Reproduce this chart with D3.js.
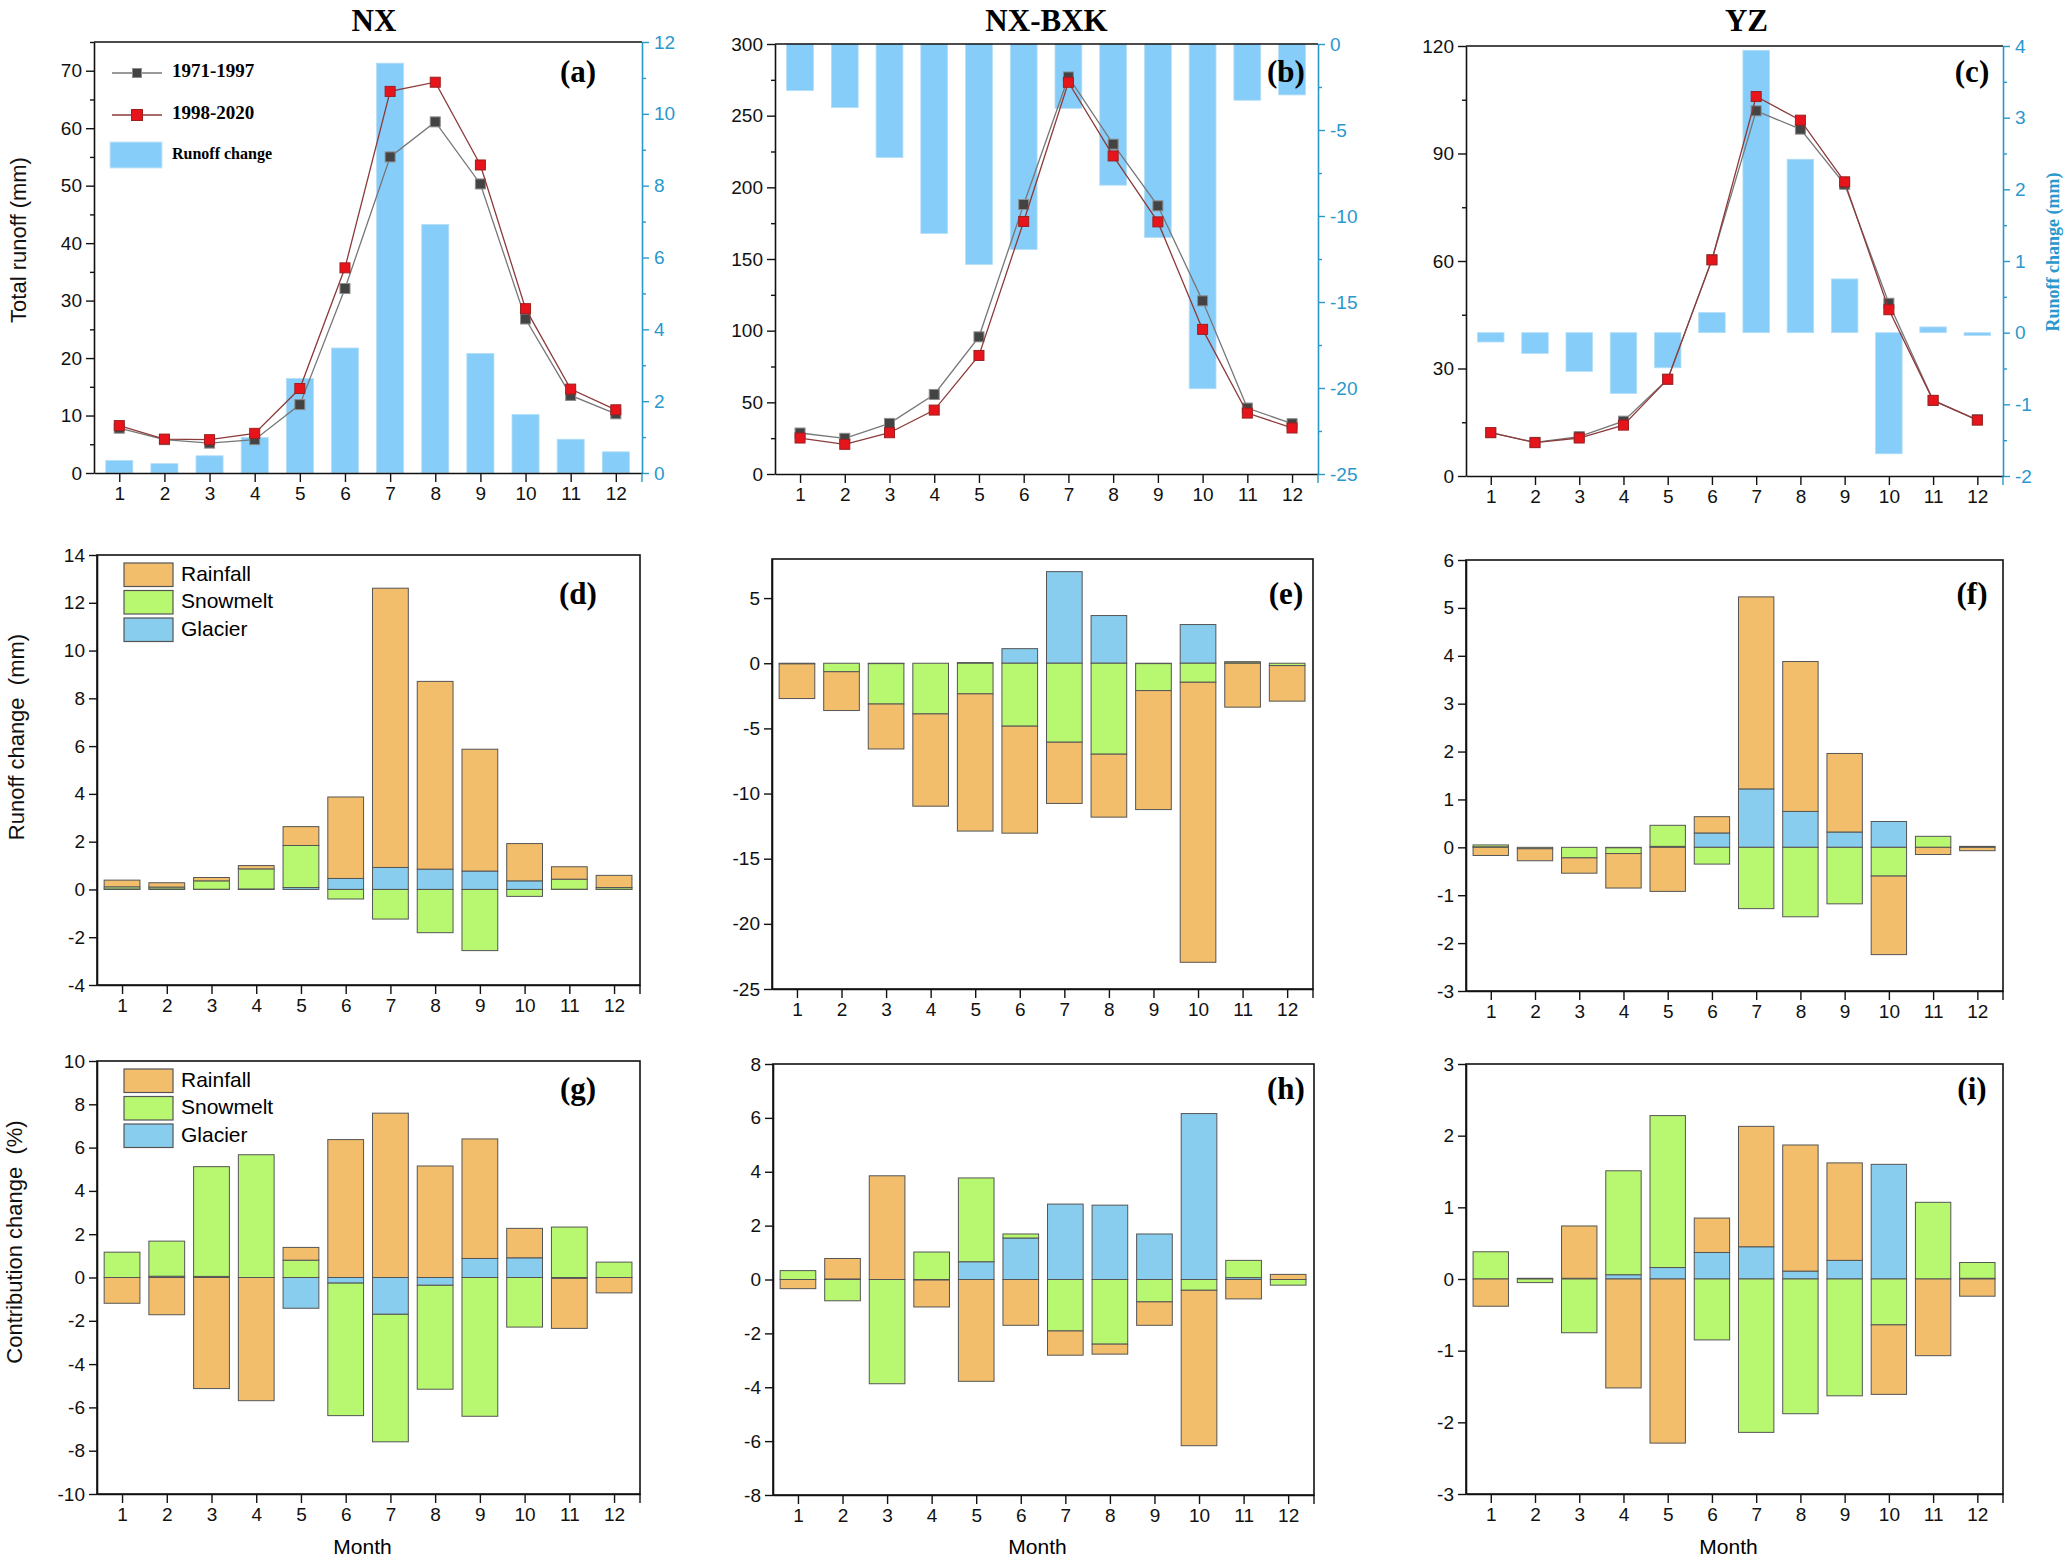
<!DOCTYPE html>
<html>
<head>
<meta charset="utf-8">
<script src="https://cdn.jsdelivr.net/npm/d3@7"></script>
<style>
  body { margin: 0; background: #fff; }
  svg { display: block; }
</style>
</head>
<body>
<div id="chart"></div>
<script>
const width = 2067;
const height = 1561;

const months = [1, 2, 3, 4, 5, 6, 7, 8, 9, 10, 11, 12];
const regions = ['NX', 'NX-BXK', 'YZ'];
const periods = ['1971-1997', '1998-2020'];
const sources = ['Rainfall', 'Snowmelt', 'Glacier'];

// total runoff (mm), two periods, and the change between them
const nxOld = [7.8, 5.8, 5.2, 5.8, 11.9, 32.1, 55.0, 61.1, 50.3, 26.8, 13.5, 10.3];
const nxNew = [8.25, 5.9, 5.8, 6.9, 14.7, 35.7, 66.4, 68.0, 53.6, 28.6, 14.6, 11.0];
const nxChange = [0.35, 0.26, 0.48, 0.99, 2.63, 3.48, 11.41, 6.92, 3.33, 1.63, 0.94, 0.59];
const bxkOld = [28.6, 24.9, 35.3, 55.5, 95.7, 188.0, 277.0, 230.1, 187.1, 120.8, 46.0, 35.1];
const bxkNew = [25.1, 20.7, 28.8, 44.6, 82.7, 176.2, 273.3, 221.9, 175.9, 100.9, 42.5, 32.1];
const bxkChange = [-2.71, -3.70, -6.60, -11.02, -12.82, -11.95, -3.74, -8.21, -11.25, -20.04, -3.27, -2.96];
const yzOld = [12.1, 9.4, 11.0, 15.3, 27.0, 60.4, 101.9, 96.8, 81.4, 48.2, 21.1, 15.7];
const yzNew = [12.1, 9.3, 10.6, 14.2, 27.0, 60.3, 105.9, 99.3, 82.1, 46.4, 21.1, 15.6];
const yzChange = [-0.13, -0.29, -0.54, -0.85, -0.49, 0.28, 3.94, 2.42, 0.75, -1.69, 0.08, -0.04];

// runoff change by source (mm)
const nxRainMm = [0.28, 0.18, 0.14, 0.14, 0.79, 3.41, 11.69, 7.86, 5.10, 1.56, 0.52, 0.51];
const nxSnowMm = [0.09, 0.08, 0.35, 0.84, 1.76, -0.40, -1.24, -1.81, -2.56, -0.29, 0.42, 0.07];
const nxGlacierMm = [0.02, 0.02, 0.01, 0.02, 0.08, 0.46, 0.92, 0.85, 0.77, 0.36, 0.01, 0.01];
const bxkRainMm = [-2.66, -2.98, -3.45, -7.08, -10.53, -8.21, -4.70, -4.83, -9.13, -21.49, -3.37, -2.73];
const bxkSnowMm = [-0.05, -0.65, -3.10, -3.89, -2.35, -4.83, -6.06, -6.98, -2.07, -1.46, 0.10, -0.18];
const bxkGlacierMm = [0, 0, -0.03, 0, 0.05, 1.12, 7.03, 3.66, -0.03, 2.97, 0.02, 0];
const yzRainMm = [-0.17, -0.25, -0.32, -0.72, -0.92, 0.34, 4.01, 3.13, 1.64, -1.64, -0.15, -0.07];
const yzSnowMm = [0.04, -0.03, -0.22, -0.12, 0.44, -0.35, -1.28, -1.45, -1.18, -0.60, 0.23, 0.02];
const yzGlacierMm = [0.01, 0, 0, -0.01, 0.02, 0.30, 1.22, 0.75, 0.32, 0.54, 0, 0];

// contribution change by source (%)
const nxRainPct = [-1.19, -1.72, -5.13, -5.69, 0.59, 6.37, 7.59, 5.15, 5.52, 1.36, -2.31, -0.71];
const nxSnowPct = [1.17, 1.62, 5.07, 5.67, 0.80, -6.12, -5.89, -4.80, -6.41, -2.29, 2.33, 0.71];
const nxGlacierPct = [0, 0.06, 0.05, 0, -1.42, -0.26, -1.70, -0.36, 0.88, 0.91, -0.04, 0];
const bxkRainPct = [-0.34, 0.76, 3.85, -1.00, -3.78, -1.70, -0.90, -0.37, -0.87, -5.77, -0.72, 0.19];
const bxkSnowPct = [0.33, -0.79, -3.87, 1.02, 3.11, 0.15, -1.91, -2.40, -0.83, -0.40, 0.64, -0.21];
const bxkGlacierPct = [0, 0.02, 0, -0.02, 0.66, 1.54, 2.80, 2.76, 1.69, 6.16, 0.07, 0];
const yzRainPct = [-0.38, 0, 0.73, -1.52, -2.29, 0.48, 1.68, 1.76, 1.36, -0.97, -1.07, -0.24];
const yzSnowPct = [0.38, -0.05, -0.75, 1.45, 2.12, -0.85, -2.14, -1.88, -1.63, -0.64, 1.07, 0.22];
const yzGlacierPct = [0, 0.01, 0.01, 0.06, 0.16, 0.37, 0.45, 0.11, 0.26, 1.60, 0, 0.01];

// tick values
const nxTicks = [0, 10, 20, 30, 40, 50, 60, 70];
const nxMinor = [5, 15, 25, 35, 45, 55, 65, 75];
const nxRightTicks = [0, 2, 4, 6, 8, 10, 12];
const nxRightMinor = [1, 3, 5, 7, 9, 11];
const bxkTicks = [0, 50, 100, 150, 200, 250, 300];
const bxkMinor = [25, 75, 125, 175, 225, 275];
const bxkRightTicks = [0, -5, -10, -15, -20, -25];
const bxkRightMinor = [-2.5, -7.5, -12.5, -17.5, -22.5];
const yzTicks = [0, 30, 60, 90, 120];
const yzMinor = [15, 45, 75, 105];
const yzRightTicks = [-2, -1, 0, 1, 2, 3, 4];
const yzRightMinor = [-1.5, -0.5, 0.5, 1.5, 2.5, 3.5];
const dTicks = [-4, -2, 0, 2, 4, 6, 8, 10, 12, 14];
const eTicks = [-25, -20, -15, -10, -5, 0, 5];
const fTicks = [-3, -2, -1, 0, 1, 2, 3, 4, 5, 6];
const gTicks = [-10, -8, -6, -4, -2, 0, 2, 4, 6, 8, 10];
const hTicks = [-8, -6, -4, -2, 0, 2, 4, 6, 8];
const iTicks = [-3, -2, -1, 0, 1, 2, 3];

const sans = "'Liberation Sans', Arial, sans-serif";
const serif = "'Liberation Serif', 'Times New Roman', serif";
const blueAxis = '#2a98cc';
const colors = { Rainfall: '#f2be6c', Snowmelt: '#b8f870', Glacier: '#88cdee' };
const tickFs = 19;

// panel-label centres per column / row
const labelX = [578, 1286, 1972];
const labelY = [75, 597, 1092];

const svg = d3.select('#chart')
  .append('svg')
  .attr('width', width)
  .attr('height', height)
  .style('background', '#fff');

const xDomain = [0.44, 12.58];

function styleAxis(g, color, fs) {
  g.selectAll('path').attr('stroke', color).attr('stroke-width', 1.6);
  g.selectAll('line').attr('stroke', color).attr('stroke-width', 1.4);
  g.selectAll('text')
    .attr('fill', color)
    .style('font-family', sans)
    .style('font-size', fs + 'px');
}

function bottomAxis(g, x, box) {
  g.append('g')
    .attr('transform', `translate(0,${box.b})`)
    .call(d3.axisBottom(x).tickValues(months).tickSize(9).tickSizeOuter(0).tickPadding(5).tickFormat(d => d))
    .call(a => styleAxis(a, '#111', tickFs));
  // end stub at the right of the bottom axis
  g.append('line')
    .attr('x1', box.r).attr('x2', box.r)
    .attr('y1', box.b).attr('y2', box.b + 9)
    .attr('stroke', box.stub || '#111').attr('stroke-width', 1.4);
}

function panelLabel(g, col, row, text) {
  g.append('text')
    .attr('x', labelX[col])
    .attr('y', labelY[row])
    .attr('text-anchor', 'middle')
    .attr('dominant-baseline', 'middle')
    .style('font-family', serif)
    .style('font-weight', 'bold')
    .style('font-size', '31px')
    .text(text);
}

// ---------- row 1: total runoff lines + change bars ----------
function runoffPanel(cfg) {
  const box = cfg.box;
  const g = svg.append('g');
  const x = d3.scaleLinear().domain(xDomain).range([box.l, box.r]);
  const yL = d3.scaleLinear().domain(cfg.left).range([box.b, box.t]);
  const yR = d3.scaleLinear().domain(cfg.right).range([box.b, box.t]);
  const bw = 0.6 * (x(2) - x(1));

  g.selectAll('.bar')
    .data(cfg.change)
    .enter()
    .append('rect')
    .attr('x', (d, i) => x(months[i]) - bw / 2)
    .attr('width', bw)
    .attr('y', d => Math.min(yR(0), yR(d)))
    .attr('height', d => Math.abs(yR(d) - yR(0)))
    .attr('fill', '#87cdf9')
    .attr('stroke', '#b5def7')
    .attr('stroke-width', 0.8);

  const series = [
    { vals: cfg.old, line: '#777', fill: '#434343', stroke: '#8d8d8d' },
    { vals: cfg.now, line: '#8c3a3a', fill: '#e8141c', stroke: '#9b2020' }
  ];
  const line = d3.line().x((d, i) => x(months[i])).y(d => yL(d));
  series.forEach(s => {
    g.append('path')
      .attr('d', line(s.vals))
      .attr('fill', 'none')
      .attr('stroke', s.line)
      .attr('stroke-width', 1.3);
    g.selectAll(null)
      .data(s.vals)
      .enter()
      .append('rect')
      .attr('x', (d, i) => x(months[i]) - 5)
      .attr('y', d => yL(d) - 5)
      .attr('width', 10)
      .attr('height', 10)
      .attr('fill', s.fill)
      .attr('stroke', s.stroke)
      .attr('stroke-width', 1);
  });

  // top frame
  g.append('line')
    .attr('x1', box.l).attr('x2', box.r)
    .attr('y1', box.t).attr('y2', box.t)
    .attr('stroke', '#111').attr('stroke-width', 1.6);

  g.append('g')
    .attr('transform', `translate(${box.l},0)`)
    .call(d3.axisLeft(yL).tickValues(cfg.lTicks).tickSize(8).tickSizeOuter(0).tickPadding(4).tickFormat(d => d))
    .call(a => styleAxis(a, '#111', tickFs));
  g.append('g')
    .attr('transform', `translate(${box.l},0)`)
    .call(d3.axisLeft(yL).tickValues(cfg.lMinor).tickSize(4).tickFormat(''))
    .call(a => { a.select('.domain').remove(); styleAxis(a, '#111', tickFs); });

  g.append('g')
    .attr('transform', `translate(${box.r},0)`)
    .call(d3.axisRight(yR).tickValues(cfg.rTicks).tickSize(7).tickSizeOuter(0).tickPadding(5).tickFormat(d => d))
    .call(a => styleAxis(a, blueAxis, tickFs));
  g.append('g')
    .attr('transform', `translate(${box.r},0)`)
    .call(d3.axisRight(yR).tickValues(cfg.rMinor).tickSize(4).tickFormat(''))
    .call(a => { a.select('.domain').remove(); styleAxis(a, blueAxis, tickFs); });

  bottomAxis(g, x, Object.assign({ stub: blueAxis }, box));
  panelLabel(g, cfg.col, 0, cfg.label);

  g.append('text')
    .attr('x', (box.l + box.r) / 2 + cfg.titleDx)
    .attr('y', 31)
    .attr('text-anchor', 'middle')
    .style('font-family', serif)
    .style('font-weight', 'bold')
    .style('font-size', '31px')
    .text(cfg.title);
  return g;
}

// ---------- rows 2 and 3: stacked source bars ----------
function stackPanel(cfg) {
  const box = cfg.box;
  const g = svg.append('g');
  const x = d3.scaleLinear().domain(xDomain).range([box.l, box.r]);
  const y = d3.scaleLinear().domain(cfg.domain).range([box.b, box.t]);
  const bw = 0.8 * (x(2) - x(1));

  const rows = months.map((m, i) => ({
    month: m,
    Glacier: cfg.glacier[i],
    Snowmelt: cfg.snow[i],
    Rainfall: cfg.rain[i]
  }));
  const stacked = d3.stack()
    .keys(['Glacier', 'Snowmelt', 'Rainfall'])
    .offset(d3.stackOffsetDiverging)(rows);

  g.selectAll('.layer')
    .data(stacked)
    .enter()
    .append('g')
    .attr('fill', d => colors[d.key])
    .selectAll('rect')
    .data(d => d)
    .enter()
    .append('rect')
    .attr('x', d => x(d.data.month) - bw / 2)
    .attr('width', bw)
    .attr('y', d => y(d[1]))
    .attr('height', d => Math.max(0, y(d[0]) - y(d[1])))
    .attr('stroke', '#555')
    .attr('stroke-width', 1);

  g.append('rect')
    .attr('x', box.l).attr('y', box.t)
    .attr('width', box.r - box.l).attr('height', box.b - box.t)
    .attr('fill', 'none').attr('stroke', '#111').attr('stroke-width', 1.6);

  g.append('g')
    .attr('transform', `translate(${box.l},0)`)
    .call(d3.axisLeft(y).tickValues(cfg.ticks).tickSize(8).tickSizeOuter(0).tickPadding(4).tickFormat(d => d))
    .call(a => styleAxis(a, '#111', tickFs));

  bottomAxis(g, x, box);
  panelLabel(g, cfg.col, cfg.row, cfg.label);

  if (cfg.legend) {
    const lg = g.append('g');
    sources.forEach((s, i) => {
      lg.append('rect')
        .attr('x', box.l + 27).attr('y', box.t + 8 + i * 27.5)
        .attr('width', 49).attr('height', 23.5)
        .attr('fill', colors[s]).attr('stroke', '#555').attr('stroke-width', 1.2);
      lg.append('text')
        .attr('x', box.l + 84).attr('y', box.t + 20 + i * 27.5)
        .attr('dominant-baseline', 'middle')
        .style('font-family', sans).style('font-size', '21px')
        .text(s);
    });
  }
  if (cfg.xTitle) {
    g.append('text')
      .attr('x', (box.l + box.r) / 2 - 6)
      .attr('y', 1548)
      .attr('text-anchor', 'middle')
      .attr('dominant-baseline', 'middle')
      .style('font-family', sans).style('font-size', '21px')
      .text('Month');
  }
  return g;
}

runoffPanel({
  box: { l: 94, r: 642, t: 42, b: 473 }, left: [0, 75], right: [0, 12],
  old: nxOld, now: nxNew, change: nxChange,
  lTicks: nxTicks, lMinor: nxMinor, rTicks: nxRightTicks, rMinor: nxRightMinor,
  label: '(a)', col: 0, title: regions[0], titleDx: 6
});
runoffPanel({
  box: { l: 775, r: 1318, t: 44, b: 474 }, left: [0, 300], right: [-25, 0],
  old: bxkOld, now: bxkNew, change: bxkChange,
  lTicks: bxkTicks, lMinor: bxkMinor, rTicks: bxkRightTicks, rMinor: bxkRightMinor,
  label: '(b)', col: 1, title: regions[1], titleDx: 0
});
runoffPanel({
  box: { l: 1466, r: 2003, t: 46, b: 476 }, left: [0, 120], right: [-2, 4],
  old: yzOld, now: yzNew, change: yzChange,
  lTicks: yzTicks, lMinor: yzMinor, rTicks: yzRightTicks, rMinor: yzRightMinor,
  label: '(c)', col: 2, title: regions[2], titleDx: 12
});

stackPanel({ box: { l: 97, r: 640, t: 555, b: 985 }, domain: [-4, 14], ticks: dTicks,
  rain: nxRainMm, snow: nxSnowMm, glacier: nxGlacierMm, label: '(d)', col: 0, row: 1, legend: true });
stackPanel({ box: { l: 772, r: 1313, t: 559, b: 989 }, domain: [-25, 8], ticks: eTicks,
  rain: bxkRainMm, snow: bxkSnowMm, glacier: bxkGlacierMm, label: '(e)', col: 1, row: 1 });
stackPanel({ box: { l: 1466, r: 2003, t: 560, b: 991 }, domain: [-3, 6], ticks: fTicks,
  rain: yzRainMm, snow: yzSnowMm, glacier: yzGlacierMm, label: '(f)', col: 2, row: 1 });

stackPanel({ box: { l: 97, r: 640, t: 1061, b: 1494 }, domain: [-10, 10], ticks: gTicks,
  rain: nxRainPct, snow: nxSnowPct, glacier: nxGlacierPct, label: '(g)', col: 0, row: 2, legend: true, xTitle: true });
stackPanel({ box: { l: 773, r: 1314, t: 1064, b: 1495 }, domain: [-8, 8], ticks: hTicks,
  rain: bxkRainPct, snow: bxkSnowPct, glacier: bxkGlacierPct, label: '(h)', col: 1, row: 2, xTitle: true });
stackPanel({ box: { l: 1466, r: 2003, t: 1064, b: 1494 }, domain: [-3, 3], ticks: iTicks,
  rain: yzRainPct, snow: yzSnowPct, glacier: yzGlacierPct, label: '(i)', col: 2, row: 2, xTitle: true });

// legend of panel (a)
const leg = svg.append('g');
[{ y: 73, line: '#777', fill: '#434343', stroke: '#8d8d8d' },
 { y: 115, line: '#8c3a3a', fill: '#e8141c', stroke: '#9b2020' }].forEach((s, i) => {
  leg.append('line').attr('x1', 112).attr('x2', 162).attr('y1', s.y).attr('y2', s.y)
    .attr('stroke', s.line).attr('stroke-width', 1.3);
  const sz = i === 0 ? 9 : 11;
  leg.append('rect').attr('x', 137 - sz / 2).attr('y', s.y - sz / 2)
    .attr('width', sz).attr('height', sz)
    .attr('fill', s.fill).attr('stroke', s.stroke);
  leg.append('text').attr('x', 172).attr('y', s.y)
    .attr('dominant-baseline', 'middle')
    .style('font-family', serif).style('font-weight', 'bold').style('font-size', '19px')
    .text(periods[i]);
});
leg.append('rect').attr('x', 110).attr('y', 142).attr('width', 52).attr('height', 26)
  .attr('fill', '#87cdf9').attr('stroke', '#c9e6f7');
leg.append('text').attr('x', 172).attr('y', 155)
  .attr('dominant-baseline', 'middle')
  .style('font-family', serif).style('font-weight', 'bold').style('font-size', '16px')
  .text('Runoff change');

// axis titles
function yTitle(x, y, text, opts) {
  svg.append('text')
    .attr('transform', `translate(${x},${y}) rotate(-90)`)
    .attr('text-anchor', 'middle')
    .attr('dominant-baseline', 'middle')
    .style('white-space', 'pre')
    .style('font-family', opts.serif ? serif : sans)
    .style('font-weight', opts.serif ? 'bold' : 'normal')
    .style('font-size', opts.size + 'px')
    .attr('fill', opts.color || '#111')
    .text(text);
}
yTitle(20, 240, 'Total runoff (mm)', { size: 22 });
yTitle(18, 737, 'Runoff change  (mm)', { size: 22 });
yTitle(16, 1242, 'Contribution change  (%)', { size: 22 });
yTitle(2055, 252, 'Runoff change (mm)', { size: 18, serif: true, color: blueAxis });
</script>
</body>
</html>
